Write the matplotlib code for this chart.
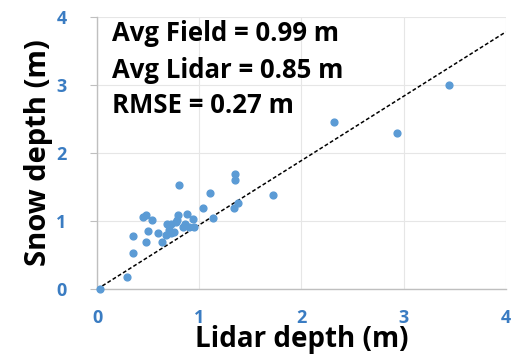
import matplotlib
matplotlib.use("Agg")
import matplotlib.pyplot as plt

plt.rcParams["font.family"] = ["Open Sans", "DejaVu Sans"]

# lidar depth vs field snow depth (m)
lidar_depth = [0.03, 0.29, 0.35, 0.35, 0.45, 0.48, 0.48, 0.50, 0.54, 0.60,
               0.63, 0.67, 0.68, 0.70, 0.72, 0.72, 0.75, 0.77, 0.78, 0.79,
               0.80, 0.84, 0.86, 0.88, 0.90, 0.94, 0.95, 1.04, 1.10, 1.13,
               1.34, 1.35, 1.35, 1.38, 1.72, 2.32, 2.94, 3.44]
snow_depth = [0.00, 0.18, 0.53, 0.78, 1.06, 1.09, 0.70, 0.86, 1.01, 0.83,
              0.70, 0.80, 0.96, 0.87, 0.82, 0.96, 0.84, 0.98, 1.02, 1.09,
              1.53, 0.92, 0.96, 1.10, 0.92, 1.03, 0.92, 1.19, 1.41, 1.04,
              1.19, 1.60, 1.69, 1.27, 1.38, 2.45, 2.30, 3.00]

fit_x = [0, 4]
fit_y = [0, 3.78]

ticks = [0, 1, 2, 3, 4]
stats_lines = ["Avg Field = 0.99 m", "Avg Lidar = 0.85 m", "RMSE = 0.27 m"]
stats_y = [3.76, 3.22, 2.70]

blue = "#5b9bd5"
tick_blue = "#3a7cc2"

fig = plt.figure(figsize=(5.14, 3.61), dpi=100)
ax = fig.add_axes([0.189, 0.199, 0.795, 0.754])

ax.scatter(lidar_depth, snow_depth, s=24, color=blue, zorder=3, clip_on=False)
ax.plot(fit_x, fit_y, ls="--", color="black", lw=1.1, dashes=(2.5, 1.5), zorder=2)

ax.set_xlim(0, 4)
ax.set_ylim(0, 4)
ax.set_xticks(ticks)
ax.set_yticks(ticks)
ax.grid(True, color="#e6e6e6", lw=0.8)
ax.set_axisbelow(True)

for side in ["top", "right"]:
    ax.spines[side].set_visible(False)
for side in ["left", "bottom"]:
    ax.spines[side].set_color("#bfbfbf")
    ax.spines[side].set_linewidth(1.0)

ax.tick_params(axis="y", length=5, color="#bfbfbf", labelsize=13, labelcolor=tick_blue, pad=17)
ax.tick_params(axis="x", length=0, labelsize=13, labelcolor=tick_blue, pad=14)
for lbl in ax.get_xticklabels() + ax.get_yticklabels():
    lbl.set_fontweight("bold")

ax.set_xlabel("Lidar depth (m)", fontsize=20, fontweight="bold", labelpad=-1)
ax.set_ylabel("Snow depth (m)", fontsize=21, fontweight="bold", labelpad=2)

for line, ypos in zip(stats_lines, stats_y):
    ax.text(0.15, ypos, line, fontsize=18.5, fontweight="bold",
            va="center", ha="left")

fig.savefig("out.png", dpi=100)
